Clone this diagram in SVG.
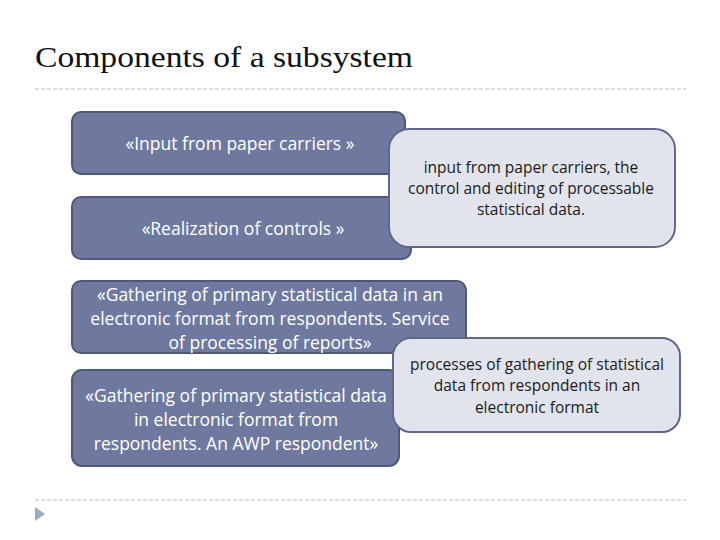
<svg xmlns="http://www.w3.org/2000/svg" width="720" height="540" viewBox="0 0 720 540">
<style>
.dark{fill:#6F799F;stroke:#4F5878;stroke-width:2}
.light{fill:#E1E4EC;stroke:#5F6888;stroke-width:2}
.dt{font-family:"Open Sans","Liberation Sans",sans-serif;font-size:17.5px;fill:#FFFFFF;text-anchor:middle}
.lt{font-family:"Open Sans","Liberation Sans",sans-serif;font-size:15.5px;fill:#1A1A1A;text-anchor:middle}
.rule{stroke:#B8BCC4;stroke-width:1;stroke-dasharray:4 2}
</style>
<rect width="720" height="540" fill="#FFFFFF"/>
<text x="35" y="67" font-family="'Liberation Serif','DejaVu Serif',serif" font-size="30" fill="#111" textLength="378" lengthAdjust="spacingAndGlyphs">Components of a subsystem</text>
<line class="rule" x1="35" y1="89" x2="686" y2="89"/>
<line class="rule" x1="35" y1="500" x2="686" y2="500"/>
<polygon points="35,507 45,514 35,521" fill="#9AAABF"/>
<g id="n1">
<rect class="dark" x="72" y="112" width="333" height="62" rx="9"/>
<text class="dt" x="240" y="150">«Input from paper carriers »</text>
</g>
<g id="n2">
<rect class="dark" x="72" y="197" width="339" height="62" rx="9"/>
<text class="dt" x="243" y="235">«Realization of controls »</text>
</g>
<g id="n3">
<rect class="light" x="389" y="129" width="286" height="118" rx="20"/>
<text class="lt" x="531" y="173">input from paper carriers, the</text>
<text class="lt" x="531" y="194">control and editing of processable</text>
<text class="lt" x="531" y="215">statistical data.</text>
</g>
<g id="n4">
<rect class="dark" x="72" y="281" width="394" height="72" rx="9"/>
<text class="dt" x="270" y="301">«Gathering of primary statistical data in an</text>
<text class="dt" x="270" y="325">electronic format from respondents. Service</text>
<text class="dt" x="270" y="349">of processing of reports»</text>
</g>
<g id="n5">
<rect class="dark" x="72" y="370" width="327" height="96" rx="10"/>
<text class="dt" x="236" y="402">«Gathering of primary statistical data</text>
<text class="dt" x="236" y="426">in electronic format from</text>
<text class="dt" x="236" y="450">respondents. An AWP respondent»</text>
</g>
<g id="n6">
<rect class="light" x="393" y="338" width="287" height="94" rx="18"/>
<text class="lt" x="537" y="370">processes of gathering of statistical</text>
<text class="lt" x="537" y="391">data from respondents in an</text>
<text class="lt" x="537" y="413">electronic format</text>
</g>
<g id="connectors"></g>
</svg>
